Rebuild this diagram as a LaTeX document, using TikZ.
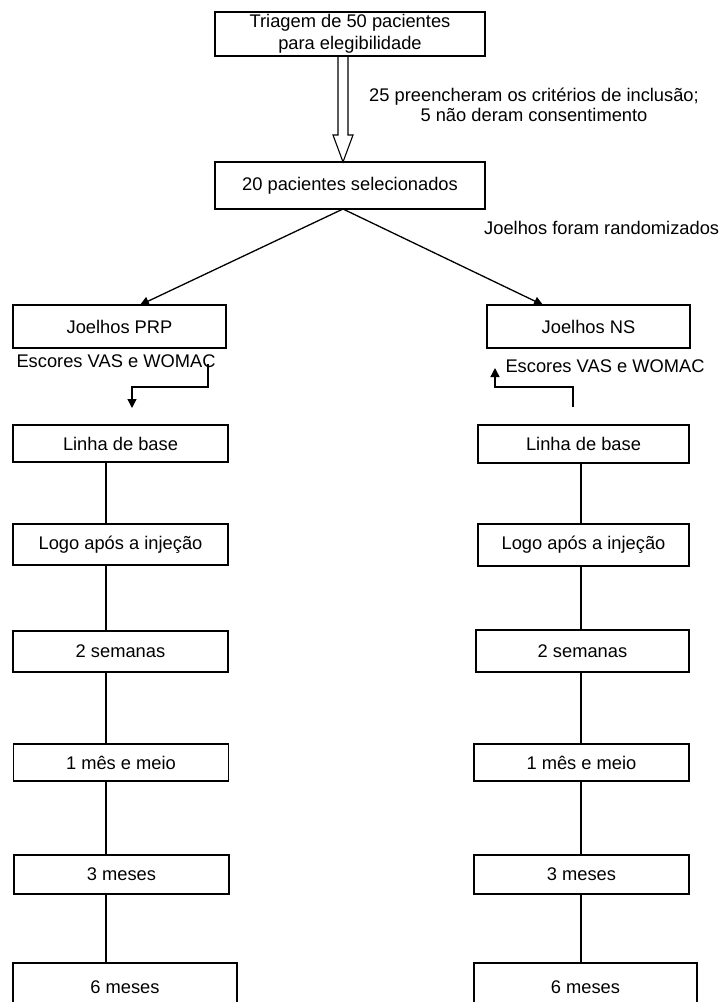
\documentclass[tikz,border=0pt]{standalone}
\usepackage{fontspec}
\setmainfont{Liberation Sans}
\usetikzlibrary{arrows.meta,calc}
\begin{document}
\begin{tikzpicture}[x=1pt,y=-1pt,
 box/.style={draw, line width=1.3pt, inner sep=0pt, outer sep=0pt, align=center, font=\fontsize{18.3}{22}\selectfont},
 lbl/.style={inner sep=0pt, align=center, font=\fontsize{18.3}{22}\selectfont},
 ln/.style={line width=1.3pt},
 arr/.style={line width=1.3pt, -{Triangle[length=9pt,width=9pt]}}]
\useasboundingbox (0,0) rectangle (726,1002);
\clip (0,0) rectangle (726,1002);

% top part
\node[box,minimum width=270pt,minimum height=44pt] (tri) at (350,34) {Triagem de 50 pacientes\\para elegibilidade};
\node[box,minimum width=270pt,minimum height=47pt] (sel) at (350,185.5) {20 pacientes selecionados};
\coordinate (ha) at (343,0);
\path (tri.south -| ha) coordinate (hs) (sel.north -| ha) coordinate (he);
\draw[line width=1.1pt, line join=miter] ($(hs)+(-5,0)$) -- ($(he)+(-5,-27)$) -- ($(he)+(-10,-27)$) -- (he) -- ($(he)+(10,-27)$) -- ($(he)+(5,-27)$) -- ($(hs)+(5,0)$);
\node[lbl, font=\fontsize{18.3}{20}\selectfont] (crit) at (534,105) {25 preencheram os critérios de inclusão;\\5 não deram consentimento};
\node[lbl, anchor=west] (rand) at (484,228) {Joelhos foram randomizados};

% groups
\node[box,minimum width=213pt,minimum height=43pt] (prp) at (119.5,326.5) {Joelhos PRP};
\node[box,minimum width=203pt,minimum height=43pt] (ns) at (588.5,326.5) {Joelhos NS};
\coordinate (tl) at (140,0);
\coordinate (tr) at (543,0);
\draw[arr] (sel.south -| ha) -- (prp.north -| tl);
\draw[arr] (sel.south -| ha) -- (ns.north -| tr);

\node[lbl] (escL) at (116,361) {Escores VAS e WOMAC};
\node[lbl] (escR) at (605,366) {Escores VAS e WOMAC};

\coordinate (bl) at (208,364);
\coordinate (bltip) at (132,408);
\draw[arr] (bl) -- (208,387) -- (132,387) -- (bltip);
\coordinate (br) at (573,407);
\coordinate (brtip) at (495,368);
\draw[arr] (br) -- (573,387) -- (495,387) -- (brtip);

% left column
\node[box,minimum width=215pt,minimum height=37pt] (l1) at (120.5,443.5) {Linha de base};
\node[box,minimum width=215pt,minimum height=41pt] (l2) at (120.5,544.5) {Logo após a injeção};
\node[box,minimum width=215pt,minimum height=41pt] (l3) at (120.5,651.5) {2 semanas};
\node[box,minimum width=215pt,minimum height=37pt] (l4) at (121,762.5) {1 mês e meio};
\node[box,minimum width=215pt,minimum height=39pt] (l5) at (121.5,874.5) {3 meses};
\node[box,minimum width=224pt,minimum height=48pt] (l6) at (125,987) {6 meses};
\coordinate (lx) at (106,0);
\foreach \a/\b in {l1/l2,l2/l3,l3/l4,l4/l5,l5/l6}
  \draw[ln] (\a.south -| lx) -- (\b.north -| lx);

% right column
\node[box,minimum width=211pt,minimum height=38pt] (r1) at (583.5,444) {Linha de base};
\node[box,minimum width=211pt,minimum height=42pt] (r2) at (583.5,545) {Logo após a injeção};
\node[box,minimum width=213pt,minimum height=42pt] (r3) at (582.5,651) {2 semanas};
\node[box,minimum width=215pt,minimum height=37pt] (r4) at (581.5,762.5) {1 mês e meio};
\node[box,minimum width=215pt,minimum height=39pt] (r5) at (581.5,874.5) {3 meses};
\node[box,minimum width=223pt,minimum height=48pt] (r6) at (585.5,987) {6 meses};
\coordinate (rx) at (581,0);
\foreach \a/\b in {r1/r2,r2/r3,r3/r4,r4/r5,r5/r6}
  \draw[ln] (\a.south -| rx) -- (\b.north -| rx);
\end{tikzpicture}
\end{document}
